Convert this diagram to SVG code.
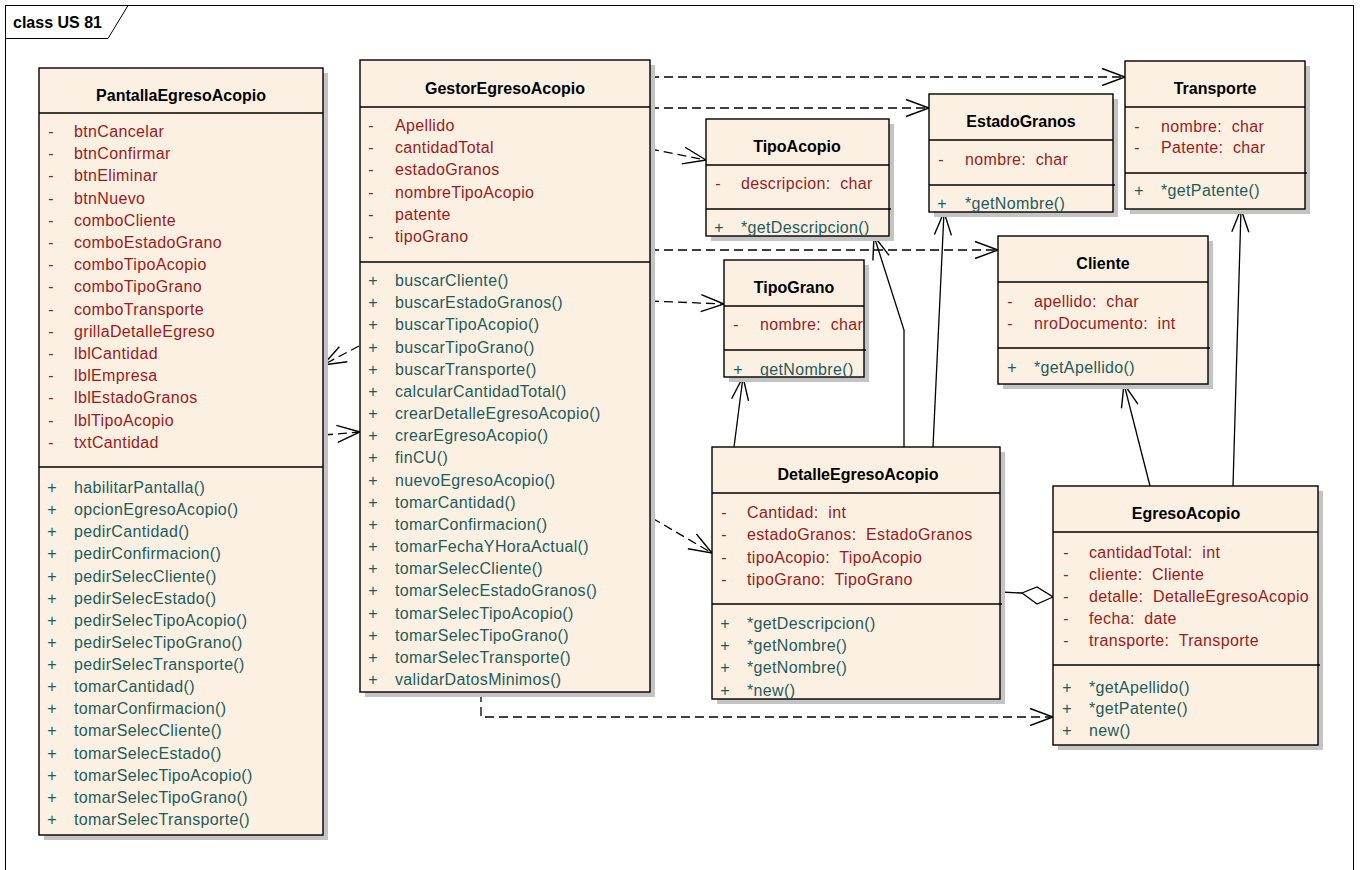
<svg xmlns="http://www.w3.org/2000/svg" width="1360" height="870" viewBox="0 0 1360 870">
<style>
.bg{fill:#fff}
.frame{fill:none;stroke:#000;stroke-width:1}
.sh{fill:#C4C4C4}
.box{fill:#FBF0E2;stroke:#000;stroke-width:1.4}
.ln{stroke:#000;stroke-width:1.4}
.ti{font-family:'Liberation Sans',Arial,sans-serif;font-weight:bold;font-size:16px;text-anchor:middle;fill:#000}
.a{font-family:'Liberation Sans',Arial,sans-serif;font-size:16px;letter-spacing:0.35px;fill:#9E1A1A;white-space:pre}
.o{font-family:'Liberation Sans',Arial,sans-serif;font-size:16px;letter-spacing:0.35px;fill:#1E5C5C;white-space:pre}
.m{text-anchor:middle}
.dash{fill:none;stroke:#000;stroke-width:1.3;stroke-dasharray:9,5}
.sol{fill:none;stroke:#000;stroke-width:1.3}
</style>
<defs>
<marker id="open" markerUnits="userSpaceOnUse" viewBox="-2 -11 28 22" refX="23" refY="0" markerWidth="28" markerHeight="22" orient="auto">
<path d="M0,-8.5 L23,0 L0,8.5" fill="none" stroke="#000" stroke-width="1.4"/>
</marker>
</defs>
<rect class="bg" x="0" y="0" width="1360" height="870"/>
<g id="frame">
<rect class="frame" x="5.5" y="5.5" width="1348" height="900"/>
<path class="frame" d="M5.5,38.5 H108 L128,5.5"/>
<text x="13" y="28" font-family="'Liberation Sans',Arial,sans-serif" font-weight="bold" font-size="16px">class US 81</text>
</g>

<g id="connectors">
<line class="dash" x1="650" y1="77" x2="1125" y2="77" marker-end="url(#open)"/>
<line class="dash" x1="650" y1="108" x2="929" y2="108" marker-end="url(#open)"/>
<line class="dash" x1="650" y1="149" x2="706" y2="160" marker-end="url(#open)"/>
<line class="dash" x1="650" y1="250" x2="998" y2="250" marker-end="url(#open)"/>
<line class="dash" x1="650" y1="301" x2="724" y2="304" marker-end="url(#open)"/>
<line class="dash" x1="359" y1="346" x2="323" y2="365" marker-end="url(#open)"/>
<line class="dash" x1="324" y1="435" x2="360" y2="432" marker-end="url(#open)"/>
<line class="dash" x1="652" y1="518" x2="712" y2="553" marker-end="url(#open)"/>
<polyline class="dash" points="481,693 481,717 1053,717" marker-end="url(#open)"/>
<line class="sol" x1="734" y1="447" x2="743" y2="377" marker-end="url(#open)"/>
<polyline class="sol" points="904,447 904,330 874,236" marker-end="url(#open)"/>
<line class="sol" x1="933" y1="447" x2="944" y2="212" marker-end="url(#open)"/>
<line class="sol" x1="1150" y1="486" x2="1124" y2="384" marker-end="url(#open)"/>
<line class="sol" x1="1233" y1="486" x2="1241" y2="209" marker-end="url(#open)"/>
<line class="sol" x1="1000" y1="592" x2="1022" y2="593"/>
<path d="M1022,593 L1037,587 L1053,597 L1037,604 Z" fill="#fff" stroke="#000" stroke-width="1.3"/>
</g>

<g id="PantallaEgresoAcopio">
<rect class="sh" x="44" y="73" width="284" height="767"/>
<rect class="box" x="39" y="68" width="284" height="767"/>
<line class="ln" x1="39" y1="113" x2="323" y2="113"/>
<line class="ln" x1="39" y1="467" x2="323" y2="467"/>
<text class="ti" x="181" y="101">PantallaEgresoAcopio</text>
<text class="a"><tspan class="m" x="51" y="137">-</tspan><tspan x="74" y="137">btnCancelar</tspan><tspan class="m" x="51" y="159.2">-</tspan><tspan x="74" y="159.2">btnConfirmar</tspan><tspan class="m" x="51" y="181.4">-</tspan><tspan x="74" y="181.4">btnEliminar</tspan><tspan class="m" x="51" y="203.6">-</tspan><tspan x="74" y="203.6">btnNuevo</tspan><tspan class="m" x="51" y="225.8">-</tspan><tspan x="74" y="225.8">comboCliente</tspan><tspan class="m" x="51" y="248">-</tspan><tspan x="74" y="248">comboEstadoGrano</tspan><tspan class="m" x="51" y="270.2">-</tspan><tspan x="74" y="270.2">comboTipoAcopio</tspan><tspan class="m" x="51" y="292.4">-</tspan><tspan x="74" y="292.4">comboTipoGrano</tspan><tspan class="m" x="51" y="314.6">-</tspan><tspan x="74" y="314.6">comboTransporte</tspan><tspan class="m" x="51" y="336.8">-</tspan><tspan x="74" y="336.8">grillaDetalleEgreso</tspan><tspan class="m" x="51" y="359">-</tspan><tspan x="74" y="359">lblCantidad</tspan><tspan class="m" x="51" y="381.2">-</tspan><tspan x="74" y="381.2">lblEmpresa</tspan><tspan class="m" x="51" y="403.4">-</tspan><tspan x="74" y="403.4">lblEstadoGranos</tspan><tspan class="m" x="51" y="425.6">-</tspan><tspan x="74" y="425.6">lblTipoAcopio</tspan><tspan class="m" x="51" y="447.8">-</tspan><tspan x="74" y="447.8">txtCantidad</tspan></text>
<text class="o"><tspan class="m" x="52" y="493">+</tspan><tspan x="74" y="493">habilitarPantalla()</tspan><tspan class="m" x="52" y="515.1">+</tspan><tspan x="74" y="515.1">opcionEgresoAcopio()</tspan><tspan class="m" x="52" y="537.3">+</tspan><tspan x="74" y="537.3">pedirCantidad()</tspan><tspan class="m" x="52" y="559.4">+</tspan><tspan x="74" y="559.4">pedirConfirmacion()</tspan><tspan class="m" x="52" y="581.5">+</tspan><tspan x="74" y="581.5">pedirSelecCliente()</tspan><tspan class="m" x="52" y="603.7">+</tspan><tspan x="74" y="603.7">pedirSelecEstado()</tspan><tspan class="m" x="52" y="625.8">+</tspan><tspan x="74" y="625.8">pedirSelecTipoAcopio()</tspan><tspan class="m" x="52" y="647.9">+</tspan><tspan x="74" y="647.9">pedirSelecTipoGrano()</tspan><tspan class="m" x="52" y="670">+</tspan><tspan x="74" y="670">pedirSelecTransporte()</tspan><tspan class="m" x="52" y="692.2">+</tspan><tspan x="74" y="692.2">tomarCantidad()</tspan><tspan class="m" x="52" y="714.3">+</tspan><tspan x="74" y="714.3">tomarConfirmacion()</tspan><tspan class="m" x="52" y="736.4">+</tspan><tspan x="74" y="736.4">tomarSelecCliente()</tspan><tspan class="m" x="52" y="758.6">+</tspan><tspan x="74" y="758.6">tomarSelecEstado()</tspan><tspan class="m" x="52" y="780.7">+</tspan><tspan x="74" y="780.7">tomarSelecTipoAcopio()</tspan><tspan class="m" x="52" y="802.8">+</tspan><tspan x="74" y="802.8">tomarSelecTipoGrano()</tspan><tspan class="m" x="52" y="825">+</tspan><tspan x="74" y="825">tomarSelecTransporte()</tspan></text>
</g>

<g id="GestorEgresoAcopio">
<rect class="sh" x="365" y="65" width="290" height="632"/>
<rect class="box" x="360" y="60" width="290" height="632"/>
<line class="ln" x1="360" y1="107" x2="650" y2="107"/>
<line class="ln" x1="360" y1="262" x2="650" y2="262"/>
<text class="ti" x="505" y="94">GestorEgresoAcopio</text>
<text class="a"><tspan class="m" x="371" y="131">-</tspan><tspan x="395" y="131">Apellido</tspan><tspan class="m" x="371" y="153.2">-</tspan><tspan x="395" y="153.2">cantidadTotal</tspan><tspan class="m" x="371" y="175.4">-</tspan><tspan x="395" y="175.4">estadoGranos</tspan><tspan class="m" x="371" y="197.6">-</tspan><tspan x="395" y="197.6">nombreTipoAcopio</tspan><tspan class="m" x="371" y="219.8">-</tspan><tspan x="395" y="219.8">patente</tspan><tspan class="m" x="371" y="242">-</tspan><tspan x="395" y="242">tipoGrano</tspan></text>
<text class="o"><tspan class="m" x="373" y="286">+</tspan><tspan x="395" y="286">buscarCliente()</tspan><tspan class="m" x="373" y="308.2">+</tspan><tspan x="395" y="308.2">buscarEstadoGranos()</tspan><tspan class="m" x="373" y="330.3">+</tspan><tspan x="395" y="330.3">buscarTipoAcopio()</tspan><tspan class="m" x="373" y="352.5">+</tspan><tspan x="395" y="352.5">buscarTipoGrano()</tspan><tspan class="m" x="373" y="374.7">+</tspan><tspan x="395" y="374.7">buscarTransporte()</tspan><tspan class="m" x="373" y="396.9">+</tspan><tspan x="395" y="396.9">calcularCantidadTotal()</tspan><tspan class="m" x="373" y="419">+</tspan><tspan x="395" y="419">crearDetalleEgresoAcopio()</tspan><tspan class="m" x="373" y="441.2">+</tspan><tspan x="395" y="441.2">crearEgresoAcopio()</tspan><tspan class="m" x="373" y="463.4">+</tspan><tspan x="395" y="463.4">finCU()</tspan><tspan class="m" x="373" y="485.5">+</tspan><tspan x="395" y="485.5">nuevoEgresoAcopio()</tspan><tspan class="m" x="373" y="507.7">+</tspan><tspan x="395" y="507.7">tomarCantidad()</tspan><tspan class="m" x="373" y="529.9">+</tspan><tspan x="395" y="529.9">tomarConfirmacion()</tspan><tspan class="m" x="373" y="552">+</tspan><tspan x="395" y="552">tomarFechaYHoraActual()</tspan><tspan class="m" x="373" y="574.2">+</tspan><tspan x="395" y="574.2">tomarSelecCliente()</tspan><tspan class="m" x="373" y="596.4">+</tspan><tspan x="395" y="596.4">tomarSelecEstadoGranos()</tspan><tspan class="m" x="373" y="618.6">+</tspan><tspan x="395" y="618.6">tomarSelecTipoAcopio()</tspan><tspan class="m" x="373" y="640.7">+</tspan><tspan x="395" y="640.7">tomarSelecTipoGrano()</tspan><tspan class="m" x="373" y="662.9">+</tspan><tspan x="395" y="662.9">tomarSelecTransporte()</tspan><tspan class="m" x="373" y="685.1">+</tspan><tspan x="395" y="685.1">validarDatosMinimos()</tspan></text>
</g>

<g id="TipoAcopio">
<rect class="sh" x="711" y="124" width="183" height="117"/>
<rect class="box" x="706" y="119" width="183" height="117"/>
<line class="ln" x1="706" y1="165" x2="889" y2="165"/>
<line class="ln" x1="706" y1="209" x2="891" y2="209"/>
<text class="ti" x="797" y="152">TipoAcopio</text>
<text class="a"><tspan class="m" x="718" y="189">-</tspan><tspan x="741" y="189">descripcion:  char</tspan></text>
<text class="o"><tspan class="m" x="719" y="233">+</tspan><tspan x="741" y="233">*getDescripcion()</tspan></text>
</g>

<g id="EstadoGranos">
<rect class="sh" x="934" y="99" width="184" height="118"/>
<rect class="box" x="929" y="94" width="184" height="118"/>
<line class="ln" x1="929" y1="140" x2="1113" y2="140"/>
<line class="ln" x1="929" y1="185" x2="1115" y2="185"/>
<text class="ti" x="1021" y="127">EstadoGranos</text>
<text class="a"><tspan class="m" x="941" y="165">-</tspan><tspan x="965" y="165">nombre:  char</tspan></text>
<text class="o"><tspan class="m" x="942" y="209">+</tspan><tspan x="965" y="209">*getNombre()</tspan></text>
</g>

<g id="Transporte">
<rect class="sh" x="1130" y="66" width="180" height="148"/>
<rect class="box" x="1125" y="61" width="180" height="148"/>
<line class="ln" x1="1125" y1="107" x2="1305" y2="107"/>
<line class="ln" x1="1125" y1="173" x2="1307" y2="173"/>
<text class="ti" x="1215" y="94">Transporte</text>
<text class="a"><tspan class="m" x="1137" y="132">-</tspan><tspan x="1161" y="132">nombre:  char</tspan><tspan class="m" x="1137" y="153">-</tspan><tspan x="1161" y="153">Patente:  char</tspan></text>
<text class="o"><tspan class="m" x="1139" y="196">+</tspan><tspan x="1161" y="196">*getPatente()</tspan></text>
</g>

<g id="TipoGrano">
<rect class="sh" x="729" y="265" width="140" height="117"/>
<rect class="box" x="724" y="260" width="140" height="117"/>
<line class="ln" x1="724" y1="306" x2="864" y2="306"/>
<line class="ln" x1="724" y1="350" x2="866" y2="350"/>
<text class="ti" x="794" y="293">TipoGrano</text>
<text class="a"><tspan class="m" x="736" y="330">-</tspan><tspan x="760" y="330">nombre:  char</tspan></text>
<text class="o"><tspan class="m" x="738" y="375">+</tspan><tspan x="760" y="375">getNombre()</tspan></text>
</g>

<g id="Cliente">
<rect class="sh" x="1003" y="241" width="210" height="148"/>
<rect class="box" x="998" y="236" width="210" height="148"/>
<line class="ln" x1="998" y1="282" x2="1208" y2="282"/>
<line class="ln" x1="998" y1="348" x2="1210" y2="348"/>
<text class="ti" x="1103" y="269">Cliente</text>
<text class="a"><tspan class="m" x="1010" y="307">-</tspan><tspan x="1034" y="307">apellido:  char</tspan><tspan class="m" x="1010" y="329">-</tspan><tspan x="1034" y="329">nroDocumento:  int</tspan></text>
<text class="o"><tspan class="m" x="1012" y="373">+</tspan><tspan x="1034" y="373">*getApellido()</tspan></text>
</g>

<g id="DetalleEgresoAcopio">
<rect class="sh" x="717" y="452" width="288" height="252"/>
<rect class="box" x="712" y="447" width="288" height="252"/>
<line class="ln" x1="712" y1="493" x2="1000" y2="493"/>
<line class="ln" x1="712" y1="604" x2="1002" y2="604"/>
<text class="ti" x="858" y="480">DetalleEgresoAcopio</text>
<text class="a"><tspan class="m" x="724" y="518">-</tspan><tspan x="747" y="518">Cantidad:  int</tspan><tspan class="m" x="724" y="540">-</tspan><tspan x="747" y="540">estadoGranos:  EstadoGranos</tspan><tspan class="m" x="724" y="563">-</tspan><tspan x="747" y="563">tipoAcopio:  TipoAcopio</tspan><tspan class="m" x="724" y="585">-</tspan><tspan x="747" y="585">tipoGrano:  TipoGrano</tspan></text>
<text class="o"><tspan class="m" x="725" y="629">+</tspan><tspan x="747" y="629">*getDescripcion()</tspan><tspan class="m" x="725" y="651">+</tspan><tspan x="747" y="651">*getNombre()</tspan><tspan class="m" x="725" y="673">+</tspan><tspan x="747" y="673">*getNombre()</tspan><tspan class="m" x="725" y="696">+</tspan><tspan x="747" y="696">*new()</tspan></text>
</g>

<g id="EgresoAcopio">
<rect class="sh" x="1058" y="491" width="265" height="259"/>
<rect class="box" x="1053" y="486" width="265" height="259"/>
<line class="ln" x1="1053" y1="532" x2="1318" y2="532"/>
<line class="ln" x1="1053" y1="665" x2="1320" y2="665"/>
<text class="ti" x="1186" y="519">EgresoAcopio</text>
<text class="a"><tspan class="m" x="1066" y="558">-</tspan><tspan x="1089" y="558">cantidadTotal:  int</tspan><tspan class="m" x="1066" y="580">-</tspan><tspan x="1089" y="580">cliente:  Cliente</tspan><tspan class="m" x="1066" y="602">-</tspan><tspan x="1089" y="602">detalle:  DetalleEgresoAcopio</tspan><tspan class="m" x="1066" y="624">-</tspan><tspan x="1089" y="624">fecha:  date</tspan><tspan class="m" x="1066" y="646">-</tspan><tspan x="1089" y="646">transporte:  Transporte</tspan></text>
<text class="o"><tspan class="m" x="1067" y="693">+</tspan><tspan x="1089" y="693">*getApellido()</tspan><tspan class="m" x="1067" y="714">+</tspan><tspan x="1089" y="714">*getPatente()</tspan><tspan class="m" x="1067" y="736">+</tspan><tspan x="1089" y="736">new()</tspan></text>
</g>
</svg>
